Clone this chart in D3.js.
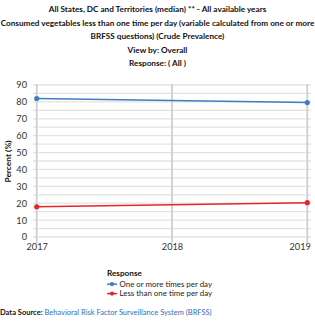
<!DOCTYPE html>
<html><head><meta charset="utf-8">
<script src="https://cdn.jsdelivr.net/npm/d3@7"></script>
<style>body{margin:0;background:#fff;overflow:hidden}svg{display:block;font-family:Lato,sans-serif}</style>
</head><body><svg id="c" width="315" height="321"></svg>
<script>
const titleLines = [
  "All States, DC and Territories (median) ** - All available years",
  "Consumed vegetables less than one time per day (variable calculated from one or more",
  "BRFSS questions) (Crude Prevalence)",
  "View by: Overall",
  "Response: ( All )"
];
const years = ["2017", "2018", "2019"];
const seriesNames = ["One or more times per day", "Less than one time per day"];
const seriesColors = ["#3d7fc1", "#e8232b"];
const oneOrMore = [82.0, null, 79.6];
const lessThanOne = [17.9, null, 20.3];
const yTicks = [0, 10, 20, 30, 40, 50, 60, 70, 80, 90];
const yGrid = d3.range(0, 91, 5);
const yTitle = "Percent (%)";
const legendTitle = "Response";
const sourceLabel = "Data Source:";
const sourceText = "Behavioral Risk Factor Surveillance System (BRFSS)";

const svg = d3.select("#c");
const tY = [9.5, 23, 36.5, 50, 63.5];
svg.selectAll("text.title").data(titleLines).join("text")
  .attr("x", 157.5).attr("y", (d,i)=>tY[i]).attr("dy","0.35em")
  .attr("text-anchor","middle").attr("font-size","8.2px").attr("font-weight","bold").attr("fill","#111")
  .text(d=>d);

const x = d3.scalePoint().domain(years).range([36.7, 307.3]);
const y = d3.scaleLinear().domain([0, 90]).range([237, 85]);

const g = svg.append("g");
g.selectAll("line.hg").data(yGrid).join("line")
  .attr("x1", 33).attr("x2", 311)
  .attr("y1", d=>y(d)).attr("y2", d=>y(d))
  .attr("stroke", "#e3e3e3").attr("stroke-width", 1.3);
g.selectAll("line.vg").data(years).join("line")
  .attr("x1", d=>x(d)).attr("x2", d=>x(d))
  .attr("y1", 84).attr("y2", 243)
  .attr("stroke", "#cfcfcf").attr("stroke-width", 1.8);

const yAxis = d3.axisLeft(y).tickValues(yTicks).tickSize(0).tickPadding(0).tickFormat(d3.format("d"));
const ya = svg.append("g").attr("transform","translate(27,0)").call(yAxis);
ya.select(".domain").remove();
ya.selectAll("text").attr("font-family","Lato,sans-serif").attr("font-size","9.2px").attr("fill","#333");

const xAxis = d3.axisBottom(x).tickSize(0).tickPadding(0);
const xa = svg.append("g").attr("transform","translate(0,243)").call(xAxis);
xa.select(".domain").remove();
xa.selectAll("text").attr("font-family","Lato,sans-serif").attr("font-size","9.2px").attr("fill","#333")
  .attr("dy","0.71em")
  .attr("text-anchor", d => d === "2019" ? "end" : "middle")
  .attr("dx", d => d === "2019" ? "3px" : "0");

svg.append("text").attr("transform","translate(8.5,161.5) rotate(-90)")
  .attr("text-anchor","middle").attr("dy","0.35em").attr("font-size","8.4px").attr("font-weight","bold").attr("fill","#111")
  .text(yTitle);

const allSeries = [oneOrMore, lessThanOne];
allSeries.forEach((vals, si) => {
  const pts = years.map((yr,i)=>({yr, v: vals[i]})).filter(p=>p.v!==null);
  const line = d3.line().x(p=>x(p.yr)).y(p=>y(p.v));
  svg.append("path").datum(pts).attr("d", line).attr("fill","none")
    .attr("stroke", seriesColors[si]).attr("stroke-width", 1.5);
  svg.selectAll("circle.s"+si).data(pts).join("circle")
    .attr("cx", p=>x(p.yr)).attr("cy", p=>y(p.v)).attr("r", 2.6)
    .attr("fill", seriesColors[si]);
});

svg.append("text").attr("x",107).attr("y",273.3).attr("dy","0.35em")
  .attr("font-size","8.2px").attr("font-weight","bold").attr("fill","#111").text(legendTitle);
const lg = svg.selectAll("g.leg").data(seriesNames).join("g")
  .attr("transform",(d,i)=>`translate(107,${284.2 + i*9.4})`);
lg.append("line").attr("x1",0).attr("x2",10).attr("stroke",(d,i)=>seriesColors[i]).attr("stroke-width",1.5);
lg.append("circle").attr("cx",5).attr("r",2.1).attr("fill",(d,i)=>seriesColors[i]);
lg.append("text").attr("x",12.5).attr("dy","0.35em").attr("font-size","7.9px").attr("fill","#222").text(d=>d);

const ds = svg.append("text").attr("x",0).attr("y",312.7).attr("dy","0.35em").attr("font-size","7.5px");
ds.append("tspan").attr("font-weight","bold").attr("fill","#111").text(sourceLabel + " ");
ds.append("tspan").attr("fill","#2e6fb7").text(sourceText);
</script></body></html>
